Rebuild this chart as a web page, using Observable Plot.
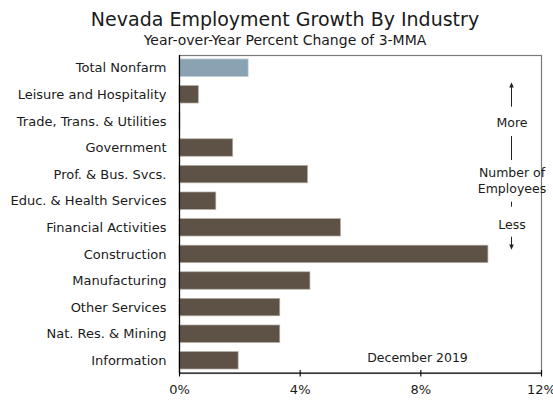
<!DOCTYPE html>
<html>
<head>
<meta charset="utf-8">
<script src="https://cdn.jsdelivr.net/npm/d3@7"></script>
<script src="https://cdn.jsdelivr.net/npm/@observablehq/plot@0.6"></script>
<style>
  html, body { margin: 0; padding: 0; background: #fff; }
  body { width: 553px; height: 400px; overflow: hidden; font-family: "DejaVu Sans", Verdana, sans-serif; color: #1a1a1a; }
  .title { box-sizing: border-box; width: 553px; padding-left: 17px; text-align: center; font-size: 19px; line-height: 22px; padding-top: 8px; height: 30px; white-space: nowrap; }
  .subtitle { box-sizing: border-box; width: 553px; padding-left: 17px; text-align: center; font-size: 14px; line-height: 17px; height: 17px; margin-top: 2px; white-space: nowrap; }
  #chart svg { display: block; overflow: visible; }
</style>
</head>
<body>
<div class="title">Nevada Employment Growth By Industry</div>
<div class="subtitle">Year-over-Year Percent Change of 3-MMA</div>
<div id="chart"></div>
<script>
const industries = [
  "Total Nonfarm",
  "Leisure and Hospitality",
  "Trade, Trans. & Utilities",
  "Government",
  "Prof. & Bus. Svcs.",
  "Educ. & Health Services",
  "Financial Activities",
  "Construction",
  "Manufacturing",
  "Other Services",
  "Nat. Res. & Mining",
  "Information"
];
const growth = [2.29, 0.64, 0.03, 1.78, 4.26, 1.22, 5.35, 10.24, 4.34, 3.34, 3.34, 1.96];
const xTicks = [0, 4, 8, 12];
const dateLabel = "December 2019";

const data = industries.map((industry, i) => ({industry, value: growth[i]}));

function annotationLines(index, scales, values, dimensions) {
  const {width, marginTop, marginRight, marginLeft, height, marginBottom} = dimensions;
  const cx = width - marginRight - 29.5;
  const t = marginTop;
  const g = d3.create("svg:g");
  const ink = "#222";
  const seg = (y1, y2) => g.append("line").attr("x1", cx).attr("x2", cx).attr("y1", t + y1).attr("y2", t + y2).attr("stroke", ink).attr("stroke-width", 1);
  seg(31, 51.7);
  seg(81, 105);
  seg(146.7, 151.7);
  seg(181.7, 190);
  g.append("path").attr("d", `M${cx},${t + 27.2}L${cx - 2.3},${t + 32.5}L${cx + 2.3},${t + 32.5}Z`).attr("fill", ink);
  g.append("path").attr("d", `M${cx},${t + 194.8}L${cx - 2.3},${t + 189.5}L${cx + 2.3},${t + 189.5}Z`).attr("fill", ink);
  const bottom = height - marginBottom;
  g.append("line").attr("x1", marginLeft).attr("x2", width - marginRight).attr("y1", bottom).attr("y2", bottom).attr("stroke", "#000").attr("stroke-width", 1.2);
  return g.node();
}

const chart = Plot.plot({
  width: 553,
  height: 351,
  marginTop: 6,
  marginBottom: 27,
  marginLeft: 179,
  marginRight: 12,
  style: {fontFamily: "DejaVu Sans, Verdana, sans-serif", fontSize: "13px", color: "#1a1a1a", background: "#fff", overflow: "visible"},
  x: {domain: [0, 12]},
  y: {domain: industries, paddingInner: 0.345, paddingOuter: 0.15, round: false},
  marks: [
    Plot.frame({stroke: "#7a7a7a", strokeWidth: 1.2}),
    Plot.barX(data, {
      x: "value",
      y: "industry",
      fill: d => d.industry === "Total Nonfarm" ? "#8aa3b3" : "#5e5246",
      stroke: d => d.industry === "Total Nonfarm" ? "#b8c8d2" : "#b3aaa2",
      strokeWidth: 0.7
    }),
    Plot.ruleX([0], {stroke: "#000", strokeWidth: 1.2}),
    Plot.gridX(xTicks, {stroke: "#000", strokeOpacity: 1, strokeWidth: 1.1, insetTop: 315, insetBottom: -3.5}),
    Plot.axisY({tickSize: 0, tickPadding: 13, label: null, fontSize: 13}),
    Plot.axisX({ticks: xTicks, tickFormat: d => d + "%", tickSize: 0, tickPadding: 11, label: null, fontSize: 13}),
    annotationLines,
    Plot.text(["More"], {text: d => d, frameAnchor: "top-right", dx: -29.5, dy: 67, textAnchor: "middle", lineAnchor: "middle", fontSize: 12.5, fill: "#1a1a1a"}),
    Plot.text(["Number of"], {text: d => d, frameAnchor: "top-right", dx: -29.5, dy: 117, textAnchor: "middle", lineAnchor: "middle", fontSize: 12.5, fill: "#1a1a1a"}),
    Plot.text(["Employees"], {text: d => d, frameAnchor: "top-right", dx: -29.5, dy: 133, textAnchor: "middle", lineAnchor: "middle", fontSize: 12.5, fill: "#1a1a1a"}),
    Plot.text(["Less"], {text: d => d, frameAnchor: "top-right", dx: -29.5, dy: 169, textAnchor: "middle", lineAnchor: "middle", fontSize: 12.5, fill: "#1a1a1a"}),
    Plot.text([dateLabel], {text: d => d, frameAnchor: "bottom-right", dx: -124, dy: -15.5, textAnchor: "middle", lineAnchor: "middle", fontSize: 12.5, fill: "#1a1a1a"})
  ]
});
document.getElementById("chart").appendChild(chart);
</script>
</body>
</html>
